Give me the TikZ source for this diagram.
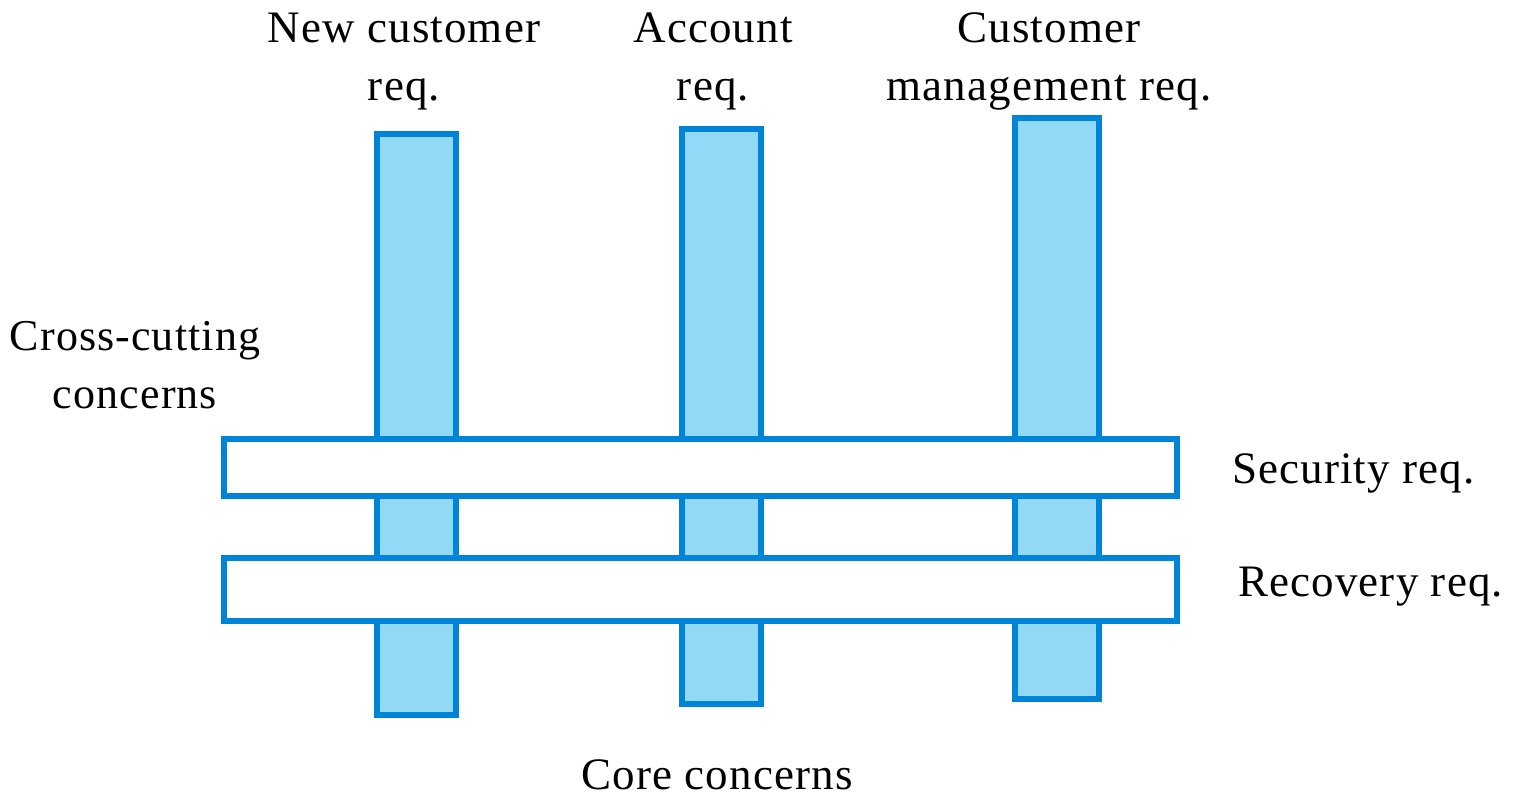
\documentclass[tikz,border=0pt]{standalone}
\usepackage{fontspec}
\setmainfont{Liberation Serif}[LetterSpace=2.5]
\definecolor{barblue}{HTML}{0084D8}
\definecolor{barfill}{HTML}{91D9F5}
\begin{document}
\begin{tikzpicture}[x=1pt,y=-1pt,
  core/.style={draw=barblue, line width=6pt, fill=barfill, inner sep=0pt, outer sep=0pt},
  cross/.style={draw=barblue, line width=6pt, fill=white, inner sep=0pt, outer sep=0pt},
  lbl/.style={font=\fontsize{45}{58}\selectfont, inner sep=0pt, align=center}]
\useasboundingbox (0,0) rectangle (1516,796);
% core concern bars
\node[core, minimum width=79pt, minimum height=581pt] (b1) at (416.5,424.5) {};
\node[core, minimum width=79pt, minimum height=575pt] (b2) at (721,416.5) {};
\node[core, minimum width=84pt, minimum height=581pt] (b3) at (1057,408.5) {};
% cross-cutting bars
\node[cross, minimum width=953pt, minimum height=57pt] (sec) at (700.5,467.5) {};
\node[cross, minimum width=953pt, minimum height=63pt] (rec) at (700.5,589.5) {};
% labels
\node[lbl, anchor=base] (l1) at (404,100) {New customer\\req.};
\node[lbl, anchor=base] (l2) at (713,100) {Account\\req.};
\node[lbl, anchor=base] (l3) at (1049,100) {Customer\\management req.};
\node[lbl, anchor=base, font=\fontsize{44}{58}\selectfont] (lcc) at (135,408) {Cross-cutting\\concerns};
\node[lbl, anchor=base west] (ls) at (1232,483) {Security req.};
\node[lbl, anchor=base west] (lr) at (1238,596) {Recovery req.};
\node[lbl, anchor=base] (lcore) at (717,789) {Core concerns};
\end{tikzpicture}
\end{document}
